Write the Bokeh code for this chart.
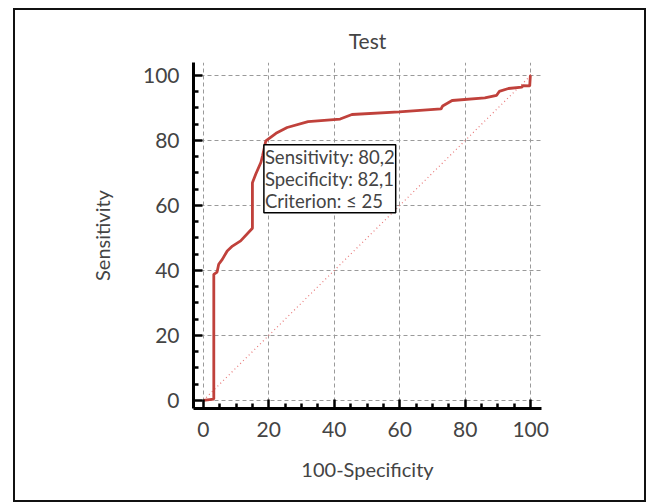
from bokeh.plotting import figure
from bokeh.models import Label, Range1d, FixedTicker
from bokeh.embed import file_html
from bokeh.resources import INLINE

# ROC curve (100-Specificity vs Sensitivity)
fpr = [0, 3.2, 3.2, 4.2, 4.7, 5.8, 7.3, 8.9, 11.4, 15.0, 15.0, 16.0, 17.6, 18.1, 19.1, 22.2, 25.6,
       32.0, 41.8, 45.4, 59.8, 72.6, 73.1, 76.0, 86.0, 89.6, 90.4, 93.2, 97.3, 97.6, 99.7, 99.9, 100]
tpr = [0, 0.4, 38.8, 39.5, 41.9, 43.4, 46.0, 47.5, 49.1, 53.0, 67.0, 69.6, 73.3, 75.3, 79.9, 82.2, 84.0,
       85.8, 86.6, 88.0, 88.8, 89.7, 90.6, 92.3, 93.1, 93.9, 95.1, 96.0, 96.4, 96.9, 96.8, 100, 100]
diag_x = [0, 100]
diag_y = [0, 100]
major_ticks = [0, 20, 40, 60, 80, 100]
minor_ticks = [5, 10, 15, 25, 30, 35, 45, 50, 55, 65, 70, 75, 85, 90, 95]
annot_text = "Sensitivity: 80,2\nSpecificity: 82,1\nCriterion: \u2264 25"
annot_x, annot_y = 18.5, 78.7

FONT = "Lato"

p = figure(width=633, height=494, output_backend="svg", toolbar_location=None,
           x_range=Range1d(-3, 103.3), y_range=Range1d(-2.5, 104),
           title="Test", x_axis_label="100-Specificity", y_axis_label="Sensitivity",
           min_border_left=178, min_border_right=107, min_border_top=52, min_border_bottom=96)
p.margin = (8, 0, 0, 13)
p.styles = {"border": "2px solid #111"}
p.outline_line_color = None

p.title.align = "center"
p.title.text_font = FONT
p.title.text_font_size = "21px"
p.title.text_font_style = "normal"
p.title.standoff = 20

for ax in (p.xaxis[0], p.yaxis[0]):
    ax.ticker = FixedTicker(ticks=major_ticks, minor_ticks=minor_ticks)
    ax.axis_line_width = 3
    ax.axis_line_color = "black"
    ax.major_tick_in = 9
    ax.major_tick_out = 0
    ax.minor_tick_in = 5
    ax.minor_tick_out = 0
    ax.major_tick_line_width = 2.5
    ax.minor_tick_line_width = 2.5
    ax.major_label_text_font = FONT
    ax.major_label_text_font_size = "21px"
    ax.axis_label_text_font = FONT
    ax.axis_label_text_font_size = "20px"
    ax.axis_label_text_font_style = "normal"
p.xaxis.major_label_standoff = 13
p.yaxis.major_label_standoff = 14
p.xaxis.axis_label_standoff = 17
p.yaxis.axis_label_standoff = 26

for g in (p.xgrid[0], p.ygrid[0]):
    g.ticker = FixedTicker(ticks=major_ticks)
    g.grid_line_color = "#9a9a9a"
    g.grid_line_dash = "4 3"
    g.grid_line_width = 1

p.line(diag_x, diag_y, line_color="#e87878", line_dash="1 3", line_width=1.2)
p.line(fpr, tpr, line_color="#c0413b", line_width=2.8)

lbl = Label(x=annot_x, y=annot_y, text=annot_text, anchor="top_left",
            text_font=FONT, text_font_size="18.5px", text_line_height=1.0,
            border_line_color="black", border_line_width=1.5,
            background_fill_color="white", padding=1)
p.add_layout(lbl)

open("out.html", "w").write(file_html(p, INLINE))
